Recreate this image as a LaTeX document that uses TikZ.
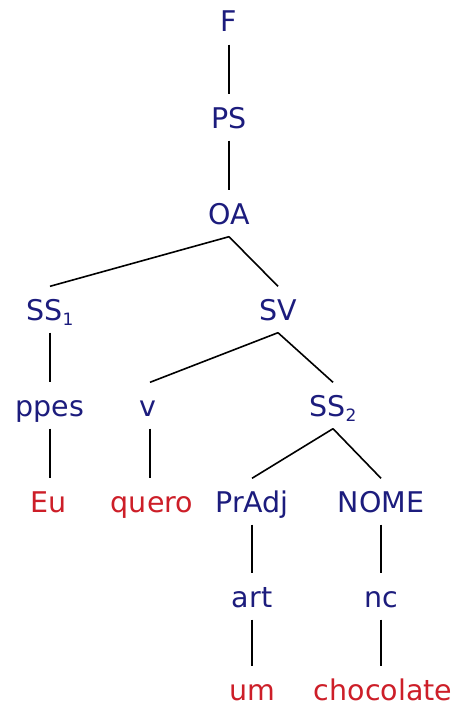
\documentclass[tikz,border=0pt]{standalone}
\usepackage{fontspec}
\setmainfont{DejaVu Sans}
\definecolor{catblue}{RGB}{28,28,125}
\definecolor{wordred}{RGB}{205,30,40}
% small lowered index digit
\newcommand{\lowidx}[1]{\raisebox{-5pt}{\fontsize{17}{17}\selectfont #1}}
\begin{document}
\begin{tikzpicture}[x=1pt,y=-1pt,
  lbl/.style={font=\fontsize{28.5}{30}\selectfont, text height=21pt,
    text depth=0pt, inner xsep=1pt, inner ysep=12.5pt, anchor=base},
  cat/.style={lbl, text=catblue},
  word/.style={lbl, text=wordred},
  edge/.style={draw=black, line width=1.6pt}]
  \fill[white] (0,0) rectangle (455,709);
  \useasboundingbox (0,0) rectangle (455,709);

  % phrase structure labels
  \node[cat] (F)     at (229,32)  {F};
  \node[cat] (PS)    at (229,128) {PS};
  \node[cat] (OA)    at (229,224) {OA};
  \node[cat] (SS1)   at (50,320)  {SS\lowidx{1}};
  \node[cat] (SV)    at (278,320) {SV};
  \node[cat] (ppes)  at (50,416)  {ppes};
  \node[cat] (v)     at (148,416) {v};
  \node[cat] (SS2)   at (333,416) {SS\lowidx{2}};
  \node[cat] (PrAdj) at (252,512) {PrAdj};
  \node[cat] (NOME)  at (381,512) {NOME};
  \node[cat] (art)   at (252,607) {art};
  \node[cat] (nc)    at (381,607) {nc};

  % terminal words
  \node[word] (Eu)    at (49,512)  {Eu};
  \node[word] (quero) at (152,512) {quero};
  \node[word] (um)    at (252,700) {um};
  \node[word] (choc)  at (383,700) {chocolate};

  % branches
  \draw[edge] (F.south) -- (PS.north);
  \draw[edge] (PS.south) -- (OA.north);
  \draw[edge] (OA.south) -- (SS1.north);
  \draw[edge] (OA.south) -- (SV.north);
  \draw[edge] (SS1.south) -- (ppes.north);
  \draw[edge] (SV.south) -- ([xshift=2pt]v.north);
  \draw[edge] (SV.south) -- (SS2.north);
  \draw[edge] (ppes.south) -- (ppes.south |- Eu.north);
  \draw[edge] ([xshift=2pt]v.south) -- ([xshift=2pt]v.south |- quero.north);
  \draw[edge] (SS2.south) -- (PrAdj.north);
  \draw[edge] (SS2.south) -- (NOME.north);
  \draw[edge] (PrAdj.south) -- (art.north);
  \draw[edge] (NOME.south) -- (nc.north);
  \draw[edge] (art.south) -- (um.north);
  \draw[edge] (nc.south) -- (nc.south |- choc.north);
\end{tikzpicture}
\end{document}
